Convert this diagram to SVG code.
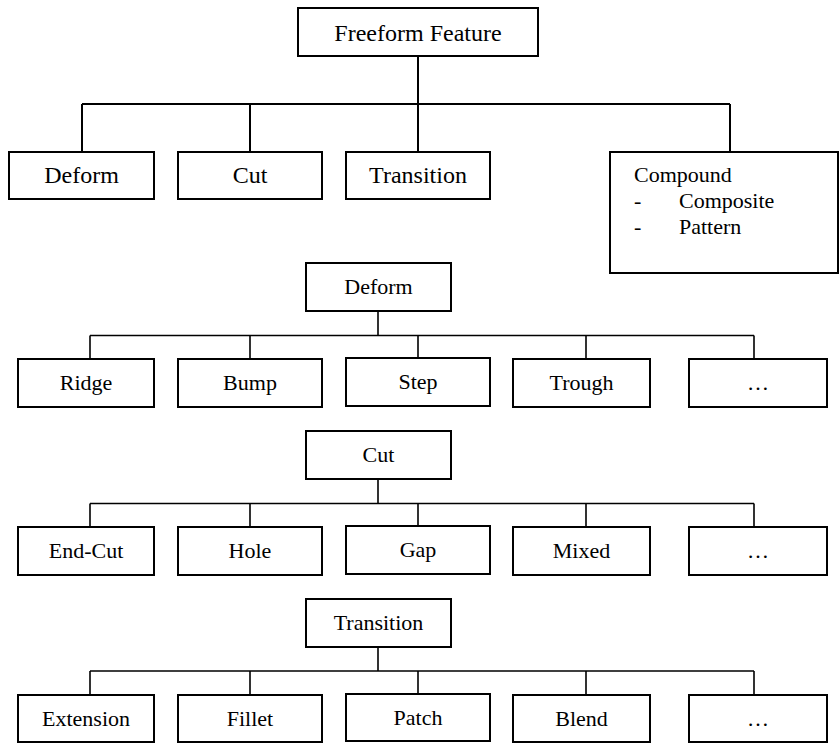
<svg xmlns="http://www.w3.org/2000/svg" width="840" height="744" viewBox="0 0 840 744">
<style>
rect{fill:#fff;stroke:#000;stroke-width:2}
text{font-family:"Liberation Serif","DejaVu Serif","Times New Roman",serif;fill:#000}
.t1{font-size:24px;text-anchor:middle}
.t2{font-size:22px;text-anchor:middle}
.tl{font-size:22px}
.c1{fill:none;stroke:#000;stroke-width:2}
.c2{fill:none;stroke:#000;stroke-width:1.6}
</style>
<rect width="840" height="744" style="fill:#fff;stroke:none"/>
<g id="connectors">
<path class="c1" d="M418 56V152M82 104H730M82 104V152M250 104V152M730 104V152"/>
<path class="c2" d="M378 311V335.5M90 335.5H754M90 335.5V359M250 335.5V359M418 335.5V358M586 335.5V359M754 335.5V359"/>
<path class="c2" d="M378 479V503.5M90 503.5H754M90 503.5V527M250 503.5V527M418 503.5V526M586 503.5V527M754 503.5V527"/>
<path class="c2" d="M378 647V671M90 671H754M90 671V695M250 671V695M418 671V694M586 671V695M754 671V695"/>
</g>
<g font-family="Liberation Serif, DejaVu Serif, serif">
<g id="freeform"><rect x="298" y="8" width="240" height="48"/><text class="t1" x="418" y="41" font-family="Liberation Serif, serif">Freeform Feature</text></g>
<g id="deform1"><rect x="9" y="152" width="145" height="47"/><text class="t1" x="81.5" y="183" font-family="Liberation Serif, serif">Deform</text></g>
<g id="cut1"><rect x="178" y="152" width="144" height="47"/><text class="t1" x="250" y="183" font-family="Liberation Serif, serif">Cut</text></g>
<g id="transition1"><rect x="346" y="152" width="144" height="47"/><text class="t1" x="418" y="183" font-family="Liberation Serif, serif">Transition</text></g>
<g id="compound"><rect x="610" y="152" width="228" height="121"/>
<text class="tl" x="634" y="182" font-family="Liberation Serif, serif">Compound</text>
<text class="tl" x="634" y="208" font-family="Liberation Serif, serif">-</text><text class="tl" x="679" y="208" font-family="Liberation Serif, serif">Composite</text>
<text class="tl" x="634" y="234" font-family="Liberation Serif, serif">-</text><text class="tl" x="679" y="234" font-family="Liberation Serif, serif">Pattern</text></g>

<g id="deform2"><rect x="306" y="263" width="145" height="48"/><text class="t2" x="378.5" y="294" font-family="Liberation Serif, serif">Deform</text></g>
<g id="ridge"><rect x="18" y="359" width="136" height="48"/><text class="t2" x="86" y="390" font-family="Liberation Serif, serif">Ridge</text></g>
<g id="bump"><rect x="178" y="359" width="144" height="48"/><text class="t2" x="250" y="390" font-family="Liberation Serif, serif">Bump</text></g>
<g id="step"><rect x="346" y="358" width="144" height="48"/><text class="t2" x="418" y="389" font-family="Liberation Serif, serif">Step</text></g>
<g id="trough"><rect x="513" y="359" width="137" height="48"/><text class="t2" x="581.5" y="390" font-family="Liberation Serif, serif">Trough</text></g>
<g id="more1"><rect x="689" y="359" width="138" height="48"/><text class="t2" x="758" y="390" font-family="Liberation Serif, serif">…</text></g>

<g id="cut2"><rect x="306" y="431" width="145" height="48"/><text class="t2" x="378.5" y="462" font-family="Liberation Serif, serif">Cut</text></g>
<g id="endcut"><rect x="18" y="527" width="136" height="48"/><text class="t2" x="86" y="558" font-family="Liberation Serif, serif">End-Cut</text></g>
<g id="hole"><rect x="178" y="527" width="144" height="48"/><text class="t2" x="250" y="558" font-family="Liberation Serif, serif">Hole</text></g>
<g id="gap"><rect x="346" y="526" width="144" height="48"/><text class="t2" x="418" y="557" font-family="Liberation Serif, serif">Gap</text></g>
<g id="mixed"><rect x="513" y="527" width="137" height="48"/><text class="t2" x="581.5" y="558" font-family="Liberation Serif, serif">Mixed</text></g>
<g id="more2"><rect x="689" y="527" width="138" height="48"/><text class="t2" x="758" y="558" font-family="Liberation Serif, serif">…</text></g>

<g id="transition2"><rect x="306" y="599" width="145" height="48"/><text class="t2" x="378.5" y="630" font-family="Liberation Serif, serif">Transition</text></g>
<g id="extension"><rect x="18" y="695" width="136" height="47"/><text class="t2" x="86" y="726" font-family="Liberation Serif, serif">Extension</text></g>
<g id="fillet"><rect x="178" y="695" width="144" height="47"/><text class="t2" x="250" y="726" font-family="Liberation Serif, serif">Fillet</text></g>
<g id="patch"><rect x="346" y="694" width="144" height="47"/><text class="t2" x="418" y="725" font-family="Liberation Serif, serif">Patch</text></g>
<g id="blend"><rect x="513" y="695" width="137" height="47"/><text class="t2" x="581.5" y="726" font-family="Liberation Serif, serif">Blend</text></g>
<g id="more3"><rect x="689" y="695" width="138" height="47"/><text class="t2" x="758" y="726" font-family="Liberation Serif, serif">…</text></g>
</g>
</svg>
